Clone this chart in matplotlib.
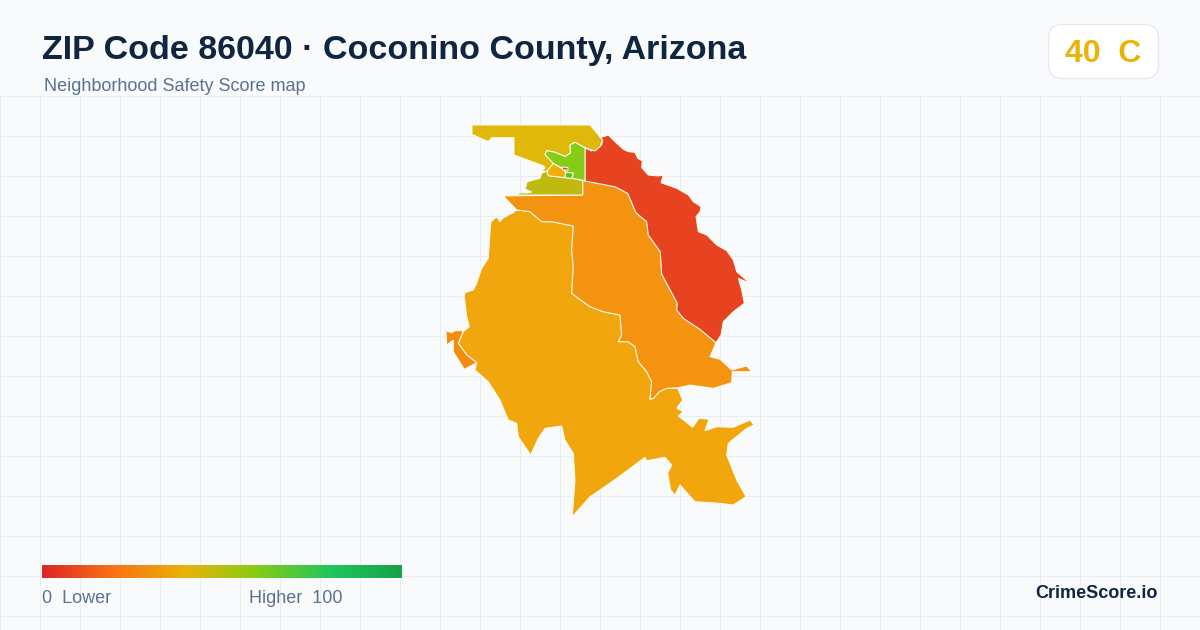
import matplotlib
matplotlib.use('Agg')
from matplotlib import pyplot as plt
from matplotlib.colors import LinearSegmentedColormap
from matplotlib.patches import FancyBboxPatch, Polygon
import numpy as np

# map outlines (pixel positions of the image)
north_yellow = [(472,125),(590,125),(596,132),(602.3,140),(600,146.7),(595,151),(586.7,148.3),(575,142.3),(570,145),
                (570.5,153),(565,156.5),(555,152.3),(546.7,150.7),(545,154.5),(553.3,163.3),(547.3,171),
                (541.7,171.7),(545,167.7),(543.3,165.7),(514,155),(514,137.7),(491.7,137.7),(489,141),(486.7,141),(472,134.3)]
north_green = [(546.7,150.7),(555,152.3),(565,156.5),(570.5,153),(570,145),(575,142.3),(585,148),(585,180.5),
               (571.7,178.3),(573.3,173.3),(565,171.7),(561.7,168.3),(553.3,163.3),(545,154.5)]
center_yellow = [(553.3,163.3),(547.3,171),(548.3,175.7),(565,177.7),(566,172.3),(561.7,168.3)]
center_green = [(565.5,172),(573.3,173.3),(571.7,178.3),(565,177.7)]
center_red = [(561.5,167),(568,167.5),(568,170),(563,170)]
olive = [(541.7,173.3),(547.3,171),(548.3,175.7),(565,177.7),(571.7,178.3),(582.7,180.5),(582.7,195),(516,195),
         (520,192.7),(527,193),(532,192),(525,189),(527.3,181.7),(540,178.3)]
east_red = [(590.7,126),(596.7,133.3),(601.7,137.3),(608.3,135),(615,141.7),(623.3,149.3),(628.3,151.7),(635,152.3),
            (637.7,158.3),(642.3,161),(641.7,167.7),(648.3,175),(658.3,176),(663.3,175),(661,182.7),(676.7,188.3),
            (688.3,195),(693.3,201.7),(701,206.7),(700,211.7),(696,216.7),(698.3,231.7),(706.7,235),(716.7,245),
            (726.7,250.7),(733.3,260),(736.7,271.7),(750,283.3),(738.3,278.3),(741.7,290),(744.3,303.3),(733.3,311.7),
            (723.3,321.7),(721,335),(716,342.7),(700,329.3),(683.3,318.3),(676.7,310),(677.3,303.3),(661.7,274),
            (660.3,251.7),(648.3,235),(646.7,221.7),(636,212.7),(627.7,193.3),(615,186.7),(585,181),(585,148),
            (591.7,151),(601.7,145),(602.7,140)]
middle_orange = [(503.3,196),(582.7,195),(582.7,180.5),(615,186.7),(627.7,193.3),(636,212.7),(646.7,221.7),(648.3,235),
                 (660.3,251.7),(661.7,274),(677.3,303.3),(676.7,310),(683.3,318.3),(700,329.3),(716,342.7),(710,356.7),
                 (720,359.3),(731.7,370),(746.7,366),(751.7,371.7),(732.3,371.7),(731.7,382.7),(713.3,388.3),(690,385),
                 (678.3,387.7),(666.7,388.3),(659.3,391.7),(653.3,398.3),(650,399.3),(651.7,381.7),(646.7,371.7),
                 (638.3,361.7),(635,346.7),(628.3,341.7),(618.3,341.7),(621.7,335),(620,315),(603.3,311.7),(590,306.7),
                 (578.3,298.3),(571.7,293.3),(573.3,266.7),(571.7,250),(573.3,226),(551.7,221.7),(541.7,221.7),
                 (530,211.7),(516.7,210)]
south_yellow = [(516.7,210),(530,211.7),(541.7,221.7),(551.7,221.7),(573.3,226),(571.7,250),(573.3,266.7),(571.7,293.3),
                (578.3,298.3),(590,306.7),(603.3,311.7),(620,315),(621.7,335),(618.3,341.7),(628.3,341.7),(635,346.7),
                (638.3,361.7),(646.7,371.7),(651.7,381.7),(650,399.3),(653.3,398.3),(659.3,391.7),(666.7,388.3),
                (677.7,388.3),(682.7,400),(676.7,408.3),(683.3,411.7),(678.3,416),(692.7,427.3),(699,418.3),(709,419.3),
                (705,430.7),(716.7,426.7),(733.3,427.3),(750,420),(754,425),(746.7,428.3),(728.3,443.3),(726.7,455),
                (736.7,480),(746,496.7),(733.3,505),(720,503.3),(695,501.7),(680,485),(675,495),(670.7,490),(667.7,473.3),
                (671.7,465),(665,457.3),(646.7,460.7),(645,457.3),(616.7,478.3),(600,490),(590,496.7),(572.3,516.7),(575,480),
                (573.3,453.3),(565,440),(561.7,426),(545,428.3),(538.3,438.3),(530.7,455),(518.3,436.7),(516.7,423.3),
                (508.3,420),(500,400),(488.3,381.7),(475,370),(476.7,362.7),(466.7,355),(458.3,343.3),(463.3,331.7),
                (469.3,326.7),(466.7,316.7),(464.3,296.7),(465,292.7),(473.3,290),(476.7,283.3),(481.7,268.3),(488.3,258.3),
                (490,233),(491,221.7),(496.7,216.7),(500,221.7),(502.7,218.3),(508.3,215),(513.3,212.7)]
west_orange = [(446,330.7),(451.7,332.7),(455,330.7),(463.3,330.7),(458.3,343.3),(466.7,355),(476.7,362.7),(464.3,369.3),
               (453.3,351.7),(453.3,340),(446.7,345)]

regions = [south_yellow, middle_orange, east_red, west_orange, north_yellow, olive, north_green,
           center_yellow, center_green, center_red]
region_colors = ['#f0a60c', '#f39310', '#e84320', '#f58a10', '#e0b80a', '#c0b90f', '#84cc16',
                 '#eeb008', '#5cc21f', '#e0503a']

legend_stops = [0, 0.2, 0.4, 0.6, 0.8, 1]
legend_colors = ['#dc2626', '#f97316', '#eab308', '#84cc16', '#22c55e', '#16a34a']

title = 'ZIP Code 86040 · Coconino County, Arizona'
subtitle = 'Neighborhood Safety Score map'
grade = '40  C'

plt.rcParams['font.family'] = ['Liberation Sans', 'DejaVu Sans']

fig = plt.figure(figsize=(12, 6.3), dpi=100, facecolor='#f8fafc')
ax = fig.add_axes([0, 0, 1, 1])
ax.set_xlim(0, 1200)
ax.set_ylim(630, 0)
ax.axis('off')

# background grid only below the header
for x in range(0, 1200, 40):
    ax.plot([x, x], [96, 630], color='#e6eef3', lw=0.72, zorder=1)
for y in range(96, 630, 40):
    ax.plot([0, 1200], [y, y], color='#e6eef3', lw=0.72, zorder=1)

for pts, c in zip(regions, region_colors):
    ax.add_patch(Polygon(pts, closed=True, facecolor=c, edgecolor='#fdfdf0', lw=0.7, zorder=3))

ax.text(42, 59, title, fontsize=24.47, fontweight='bold', color='#0f2540', va='baseline', zorder=5)
ax.text(44, 91, subtitle, fontsize=12.95, color='#5a7290', va='baseline', zorder=5)

badge = FancyBboxPatch((1048.5, 24.5), 110, 54, boxstyle='round,pad=0,rounding_size=14',
                       facecolor='white', edgecolor='#e2e8f0', lw=0.9, zorder=4)
ax.add_patch(badge)
ax.text(1103, 62, grade, fontsize=23, fontweight='bold', color='#eab308', ha='center', va='baseline', zorder=5)

cmap = LinearSegmentedColormap.from_list('score', list(zip(legend_stops, legend_colors)))
ax.imshow(np.linspace(0, 1, 360).reshape(1, -1), cmap=cmap, extent=(42, 402, 578, 565), aspect='auto', zorder=4)
ax.set_xlim(0, 1200)
ax.set_ylim(630, 0)
ax.text(42, 603, '0  Lower', fontsize=12.95, color='#5a7290', va='baseline', zorder=5)
ax.text(249, 603, 'Higher  100', fontsize=12.95, color='#5a7290', va='baseline', zorder=5)
ax.text(1158, 598.5, 'CrimeScore.io', fontsize=13, fontweight='bold', color='#0f2540', ha='right', va='baseline', zorder=5)

fig.savefig('out.png', dpi=100, facecolor=fig.get_facecolor())
